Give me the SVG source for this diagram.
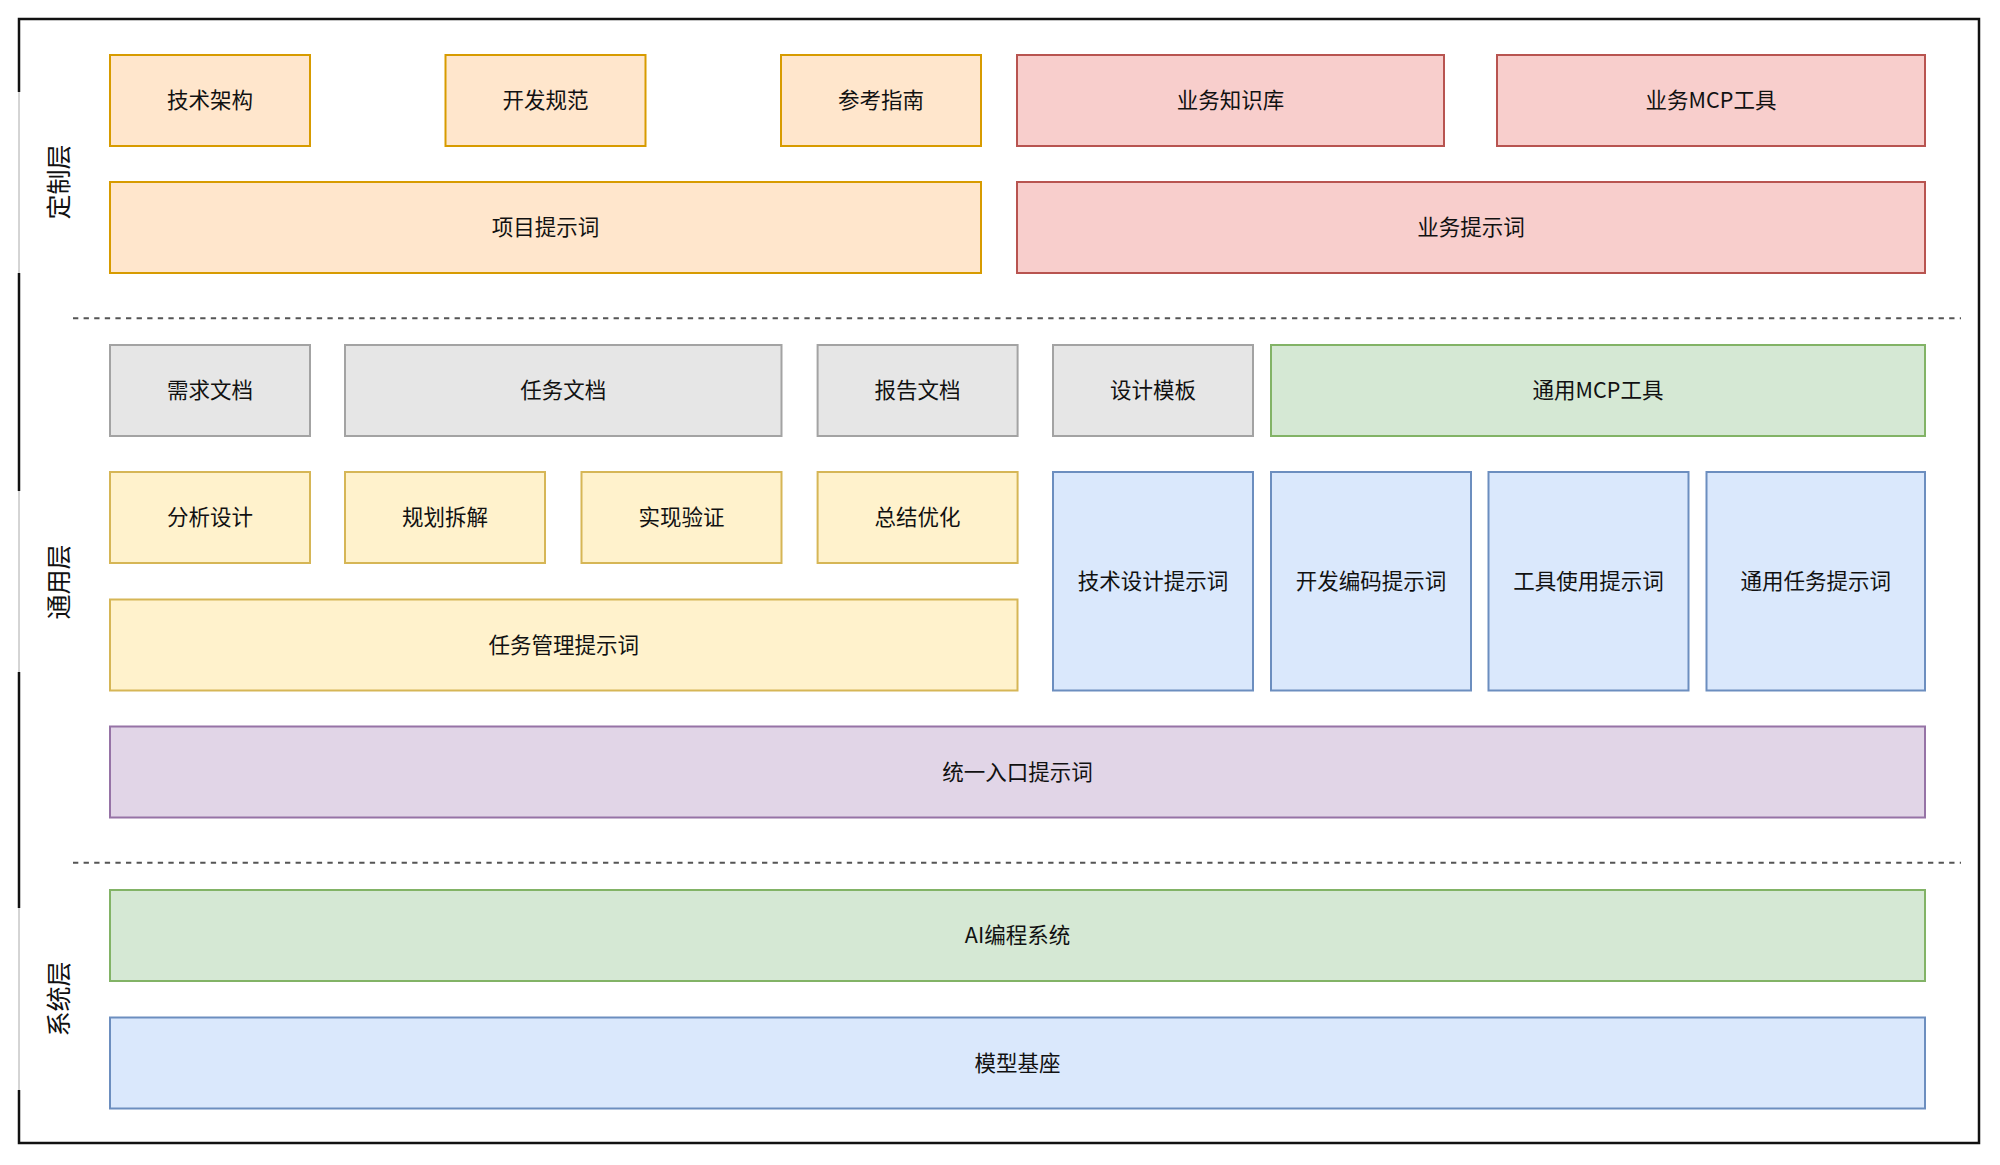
<svg xmlns="http://www.w3.org/2000/svg" width="2000" height="1165" viewBox="0 0 2000 1165">
<style>
text{font-family:"Noto Sans CJK SC","Liberation Sans",sans-serif;fill:#111;text-anchor:middle;dominant-baseline:central}
.t{font-size:21.5px}
.lbl{font-size:25px}
rect{stroke-width:2}
.or{fill:#ffe6cc;stroke:#d79b00}
.rd{fill:#f8cecc;stroke:#b85450}
.gy{fill:#e6e6e6;stroke:#a3a3a3}
.yl{fill:#fff2cc;stroke:#d6b656}
.gr{fill:#d5e8d4;stroke:#82b366}
.bl{fill:#dae8fc;stroke:#6c8ebf}
.pu{fill:#e1d5e7;stroke:#9673a6}
.dash{stroke:#555;stroke-width:2;stroke-dasharray:5.3 5.3;fill:none}
</style>
<rect width="2000" height="1165" fill="#fff" style="stroke:none"/>
<g id="frame">
<rect x="19" y="19" width="1960" height="1124" fill="none" stroke="#111" style="stroke-width:2.5"/>
<line x1="19" y1="92" x2="19" y2="273" stroke="#fff" stroke-width="4"/>
<line x1="19" y1="92" x2="19" y2="273" stroke="#aaa" stroke-width="1"/>
<line x1="19" y1="491" x2="19" y2="672" stroke="#fff" stroke-width="4"/>
<line x1="19" y1="491" x2="19" y2="672" stroke="#aaa" stroke-width="1"/>
<line x1="19" y1="908" x2="19" y2="1090" stroke="#fff" stroke-width="4"/>
<line x1="19" y1="908" x2="19" y2="1090" stroke="#aaa" stroke-width="1"/>
</g>
<g id="layer-labels">
<text class="lbl" transform="translate(57,182) rotate(-90)">定制层</text>
<text class="lbl" transform="translate(57,582) rotate(-90)">通用层</text>
<text class="lbl" transform="translate(57,999) rotate(-90)">系统层</text>
</g>
<g id="connectors">
<line class="dash" x1="73" y1="318.3" x2="1961" y2="318.3"/>
<line class="dash" x1="73" y1="862.7" x2="1961" y2="862.7"/>
</g>
<g id="n-jishujiagou"><rect class="or" x="110" y="55" width="200" height="91"/><text class="t" x="210" y="98.5">技术架构</text></g>
<g id="n-kaifaguifan"><rect class="or" x="445.5" y="55" width="200" height="91"/><text class="t" x="545.5" y="98.5">开发规范</text></g>
<g id="n-cankaozhinan"><rect class="or" x="781" y="55" width="200" height="91"/><text class="t" x="881" y="98.5">参考指南</text></g>
<g id="n-yewuzhishiku"><rect class="rd" x="1017" y="55" width="427" height="91"/><text class="t" x="1230.5" y="98.5">业务知识库</text></g>
<g id="n-yewumcp"><rect class="rd" x="1497" y="55" width="428" height="91"/><text class="t" x="1711" y="98.5">业务MCP工具</text></g>
<g id="n-xiangmutishici"><rect class="or" x="110" y="182" width="871" height="91"/><text class="t" x="545.5" y="225.5">项目提示词</text></g>
<g id="n-yewutishici"><rect class="rd" x="1017" y="182" width="908" height="91"/><text class="t" x="1471" y="225.5">业务提示词</text></g>
<g id="n-xuqiuwendang"><rect class="gy" x="110" y="345" width="200" height="91"/><text class="t" x="210" y="388.5">需求文档</text></g>
<g id="n-renwuwendang"><rect class="gy" x="345" y="345" width="436.5" height="91"/><text class="t" x="563.3" y="388.5">任务文档</text></g>
<g id="n-baogaowendang"><rect class="gy" x="817.6" y="345" width="200" height="91"/><text class="t" x="917.6" y="388.5">报告文档</text></g>
<g id="n-shejimuban"><rect class="gy" x="1053" y="345" width="200" height="91"/><text class="t" x="1153" y="388.5">设计模板</text></g>
<g id="n-tongyongmcp"><rect class="gr" x="1271" y="345" width="654" height="91"/><text class="t" x="1598" y="388.5">通用MCP工具</text></g>
<g id="n-fenxisheji"><rect class="yl" x="110" y="472" width="200" height="91"/><text class="t" x="210" y="515.5">分析设计</text></g>
<g id="n-guihuachaijie"><rect class="yl" x="345" y="472" width="200" height="91"/><text class="t" x="445" y="515.5">规划拆解</text></g>
<g id="n-shixianyanzheng"><rect class="yl" x="581.5" y="472" width="200" height="91"/><text class="t" x="681.5" y="515.5">实现验证</text></g>
<g id="n-zongjieyouhua"><rect class="yl" x="817.6" y="472" width="200" height="91"/><text class="t" x="917.6" y="515.5">总结优化</text></g>
<g id="n-jishushejitishici"><rect class="bl" x="1053" y="472" width="200" height="218.5"/><text class="t" x="1153" y="579.3">技术设计提示词</text></g>
<g id="n-kaifabianmatishici"><rect class="bl" x="1271" y="472" width="200" height="218.5"/><text class="t" x="1371" y="579.3">开发编码提示词</text></g>
<g id="n-gongjushiyongtishici"><rect class="bl" x="1488.5" y="472" width="200" height="218.5"/><text class="t" x="1588.5" y="579.3">工具使用提示词</text></g>
<g id="n-tongyongrenwutishici"><rect class="bl" x="1706.5" y="472" width="218.5" height="218.5"/><text class="t" x="1815.8" y="579.3">通用任务提示词</text></g>
<g id="n-renwuguanlitishici"><rect class="yl" x="110" y="599.5" width="907.5" height="91"/><text class="t" x="563.8" y="643">任务管理提示词</text></g>
<g id="n-tongyirukoutishici"><rect class="pu" x="110" y="726.5" width="1815" height="91"/><text class="t" x="1017.5" y="770">统一入口提示词</text></g>
<g id="n-aibianchengxitong"><rect class="gr" x="110" y="890" width="1815" height="91"/><text class="t" x="1017.5" y="933.5">AI编程系统</text></g>
<g id="n-moxingjizuo"><rect class="bl" x="110" y="1017.5" width="1815" height="91"/><text class="t" x="1017.5" y="1061">模型基座</text></g>
</svg>
